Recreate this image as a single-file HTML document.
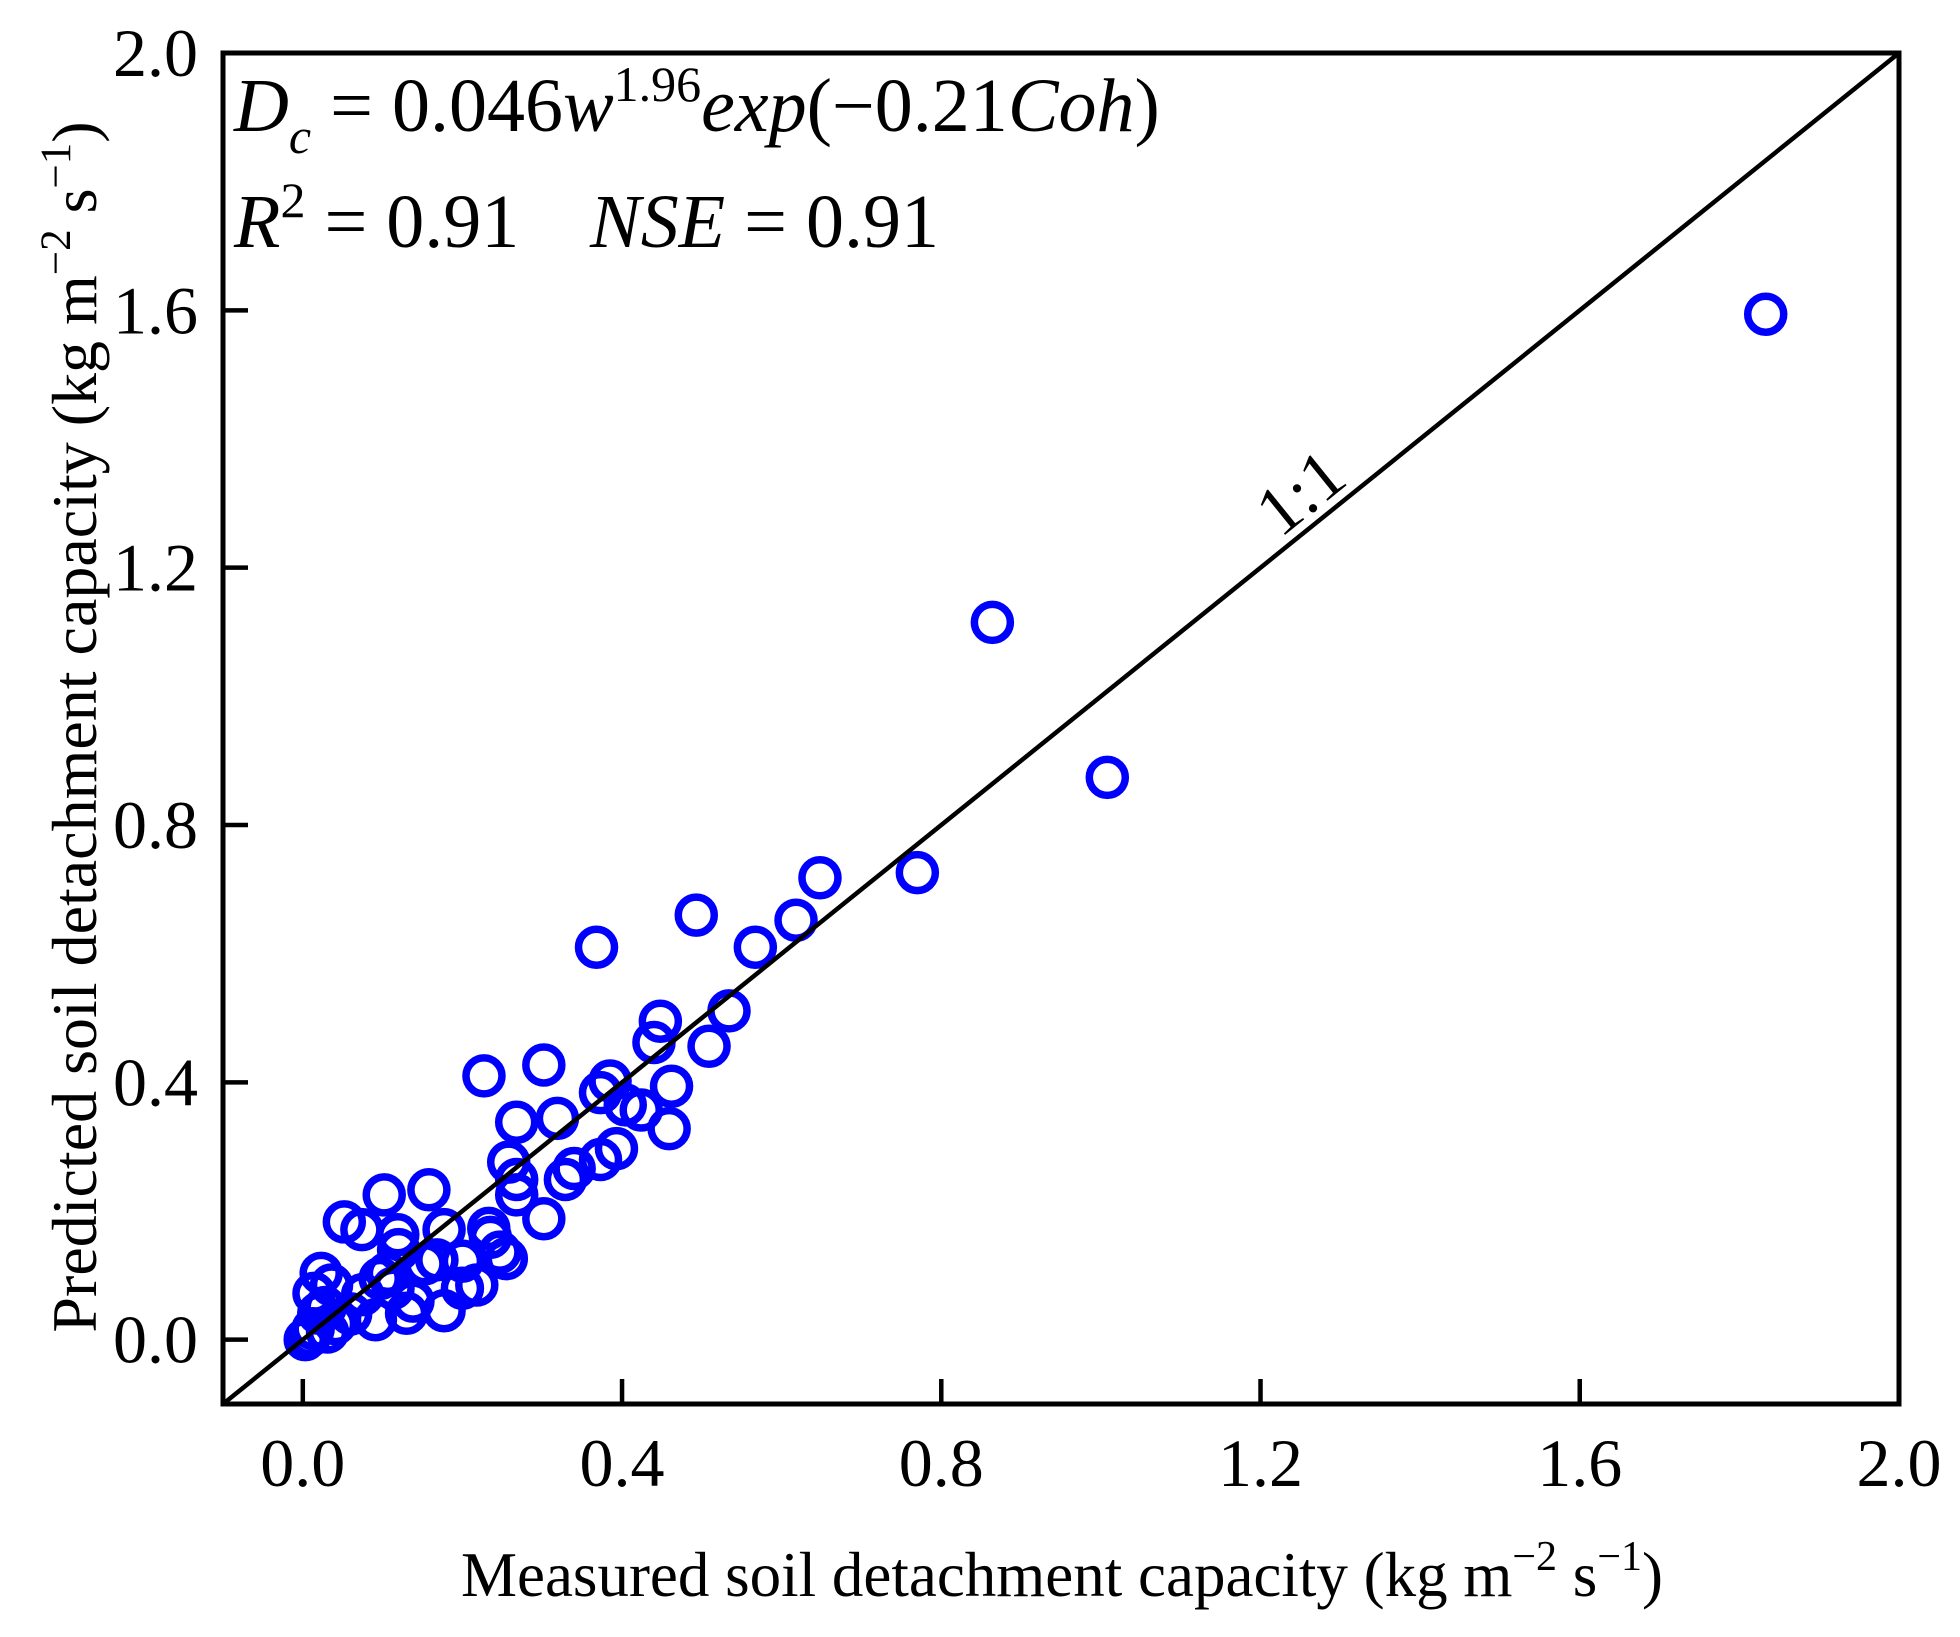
<!DOCTYPE html>
<html><head><meta charset="utf-8"><style>
html,body{margin:0;padding:0;background:#fff;}
svg{display:block;font-family:"Liberation Serif",serif;}
</style></head><body>
<svg id="chart" width="1960" height="1637" viewBox="0 0 1960 1637" xmlns="http://www.w3.org/2000/svg">
<rect x="0" y="0" width="1960" height="1637" fill="#fff"/>
<g id="marks"></g>
<g id="axes"></g>
<text x="234" y="131" font-size="76" fill="#000"><tspan font-style="italic">D</tspan><tspan font-style="italic" font-size="50" dy="22">c</tspan><tspan dy="-22"> = 0.046</tspan><tspan font-style="italic">w</tspan><tspan font-size="50" dy="-30">1.96</tspan><tspan font-style="italic" dy="30">exp</tspan><tspan>(−0.21</tspan><tspan font-style="italic">Coh</tspan><tspan>)</tspan></text>
<text x="234" y="247" font-size="76" fill="#000"><tspan font-style="italic">R</tspan><tspan font-size="50" dy="-30">2</tspan><tspan dy="30"> = 0.91</tspan></text>
<text x="590" y="247" font-size="76" fill="#000"><tspan font-style="italic">NSE</tspan><tspan> = 0.91</tspan></text>
<text x="1062" y="1596" font-size="63" text-anchor="middle" fill="#000">Measured soil detachment capacity (kg m<tspan font-size="42" dy="-26">−2</tspan><tspan dy="26"> s</tspan><tspan font-size="42" dy="-26">−1</tspan><tspan dy="26">)</tspan></text>
<text transform="translate(96,727) rotate(-90)" font-size="64" text-anchor="middle" fill="#000">Predicted soil detachment capacity (kg m<tspan font-size="43" dy="-26">−2</tspan><tspan dy="26"> s</tspan><tspan font-size="43" dy="-26">−1</tspan><tspan dy="26">)</tspan></text>
</svg>
<script>
const measured = [1.833,0.864,1.008,0.770,0.648,0.618,0.567,0.493,0.368,0.534,0.509,0.448,0.440,0.462,0.459,0.385,0.373,0.404,0.424,0.393,0.373,0.319,0.302,0.227,0.268,0.258,0.268,0.340,0.329,0.302,0.255,0.247,0.233,0.235,0.218,0.200,0.158,0.102,0.052,0.074,0.177,0.168,0.177,0.138,0.130,0.119,0.106,0.097,0.113,0.091,0.036,0.023,0.014,0.020,0.041,0.031,0.009,0.003,0.013,0.028,0.153,0.075,0.200,0.268,0.120,0.060];
const predicted = [1.594,1.115,0.874,0.726,0.718,0.652,0.610,0.660,0.610,0.511,0.456,0.495,0.462,0.394,0.328,0.402,0.384,0.365,0.357,0.297,0.280,0.344,0.427,0.410,0.338,0.276,0.249,0.266,0.249,0.188,0.126,0.136,0.173,0.159,0.085,0.122,0.233,0.225,0.183,0.171,0.171,0.124,0.045,0.060,0.041,0.163,0.103,0.095,0.080,0.031,0.085,0.103,0.072,0.041,0.025,0.012,0.006,0.000,0.017,0.050,0.118,0.070,0.080,0.225,0.140,0.040];
const xTicks = [0.0,0.4,0.8,1.2,1.6,2.0];
const yTicks = [0.0,0.4,0.8,1.2,1.6,2.0];
const xTickLabels = ["0.0","0.4","0.8","1.2","1.6","2.0"];
const yTickLabels = ["0.0","0.4","0.8","1.2","1.6","2.0"];
const domainMin = -0.1, domainMax = 2.0;

const L=223,R=1899,T=53,B=1404;
const sx = v => L + (v-domainMin)/(domainMax-domainMin)*(R-L);
const sy = v => B - (v-domainMin)/(domainMax-domainMin)*(B-T);
const NS="http://www.w3.org/2000/svg";
const marks=document.getElementById('marks');
const axes=document.getElementById('axes');

const line=document.createElementNS(NS,'line');


line.setAttribute('x1',sx(domainMin));line.setAttribute('y1',sy(domainMin));
line.setAttribute('x2',sx(domainMax));line.setAttribute('y2',sy(domainMax));
line.setAttribute('stroke','#000');line.setAttribute('stroke-width','4.5');
axes.appendChild(line);

const ang = Math.atan((B-T)/(R-L))*180/Math.PI;
const lbl=document.createElementNS(NS,'text');


lbl.setAttribute('transform','translate(1300,492) rotate('+(-ang)+')');
lbl.setAttribute('font-size','70');lbl.setAttribute('text-anchor','middle');
lbl.setAttribute('dy','24');
lbl.textContent='1:1';
axes.appendChild(lbl);

for(let i=0;i<measured.length;i++){
  const c=document.createElementNS(NS,'circle');
  
  
  c.setAttribute('cx',sx(measured[i]));c.setAttribute('cy',sy(predicted[i]));
  c.setAttribute('r','18');c.setAttribute('fill','none');
  c.setAttribute('stroke','#0000ff');c.setAttribute('stroke-width','7.5');
  marks.appendChild(c);
}

const frame=document.createElementNS(NS,'rect');


frame.setAttribute('x',L);frame.setAttribute('y',T);
frame.setAttribute('width',R-L);frame.setAttribute('height',B-T);
frame.setAttribute('fill','none');frame.setAttribute('stroke','#000');frame.setAttribute('stroke-width','5');
axes.appendChild(frame);

for(let i=0;i<xTicks.length;i++){
  const x=sx(xTicks[i]);
  const t=document.createElementNS(NS,'line');
  
  
  t.setAttribute('x1',x);t.setAttribute('x2',x);t.setAttribute('y1',B);t.setAttribute('y2',B-25);
  t.setAttribute('stroke','#000');t.setAttribute('stroke-width','4.5');
  axes.appendChild(t);
  const tx=document.createElementNS(NS,'text');
  
  
  tx.setAttribute('x',x);tx.setAttribute('y',1486);
  tx.setAttribute('font-size','68');tx.setAttribute('text-anchor','middle');
  tx.textContent=xTickLabels[i];
  axes.appendChild(tx);
}
for(let i=0;i<yTicks.length;i++){
  const y=sy(yTicks[i]);
  const t=document.createElementNS(NS,'line');
  
  
  t.setAttribute('x1',L);t.setAttribute('x2',L+25);t.setAttribute('y1',y);t.setAttribute('y2',y);
  t.setAttribute('stroke','#000');t.setAttribute('stroke-width','4.5');
  axes.appendChild(t);
  const tx=document.createElementNS(NS,'text');
  
  
  tx.setAttribute('x',198);tx.setAttribute('y',y+23);
  tx.setAttribute('font-size','68');tx.setAttribute('text-anchor','end');
  tx.textContent=yTickLabels[i];
  axes.appendChild(tx);
}
</script>
</body></html>
